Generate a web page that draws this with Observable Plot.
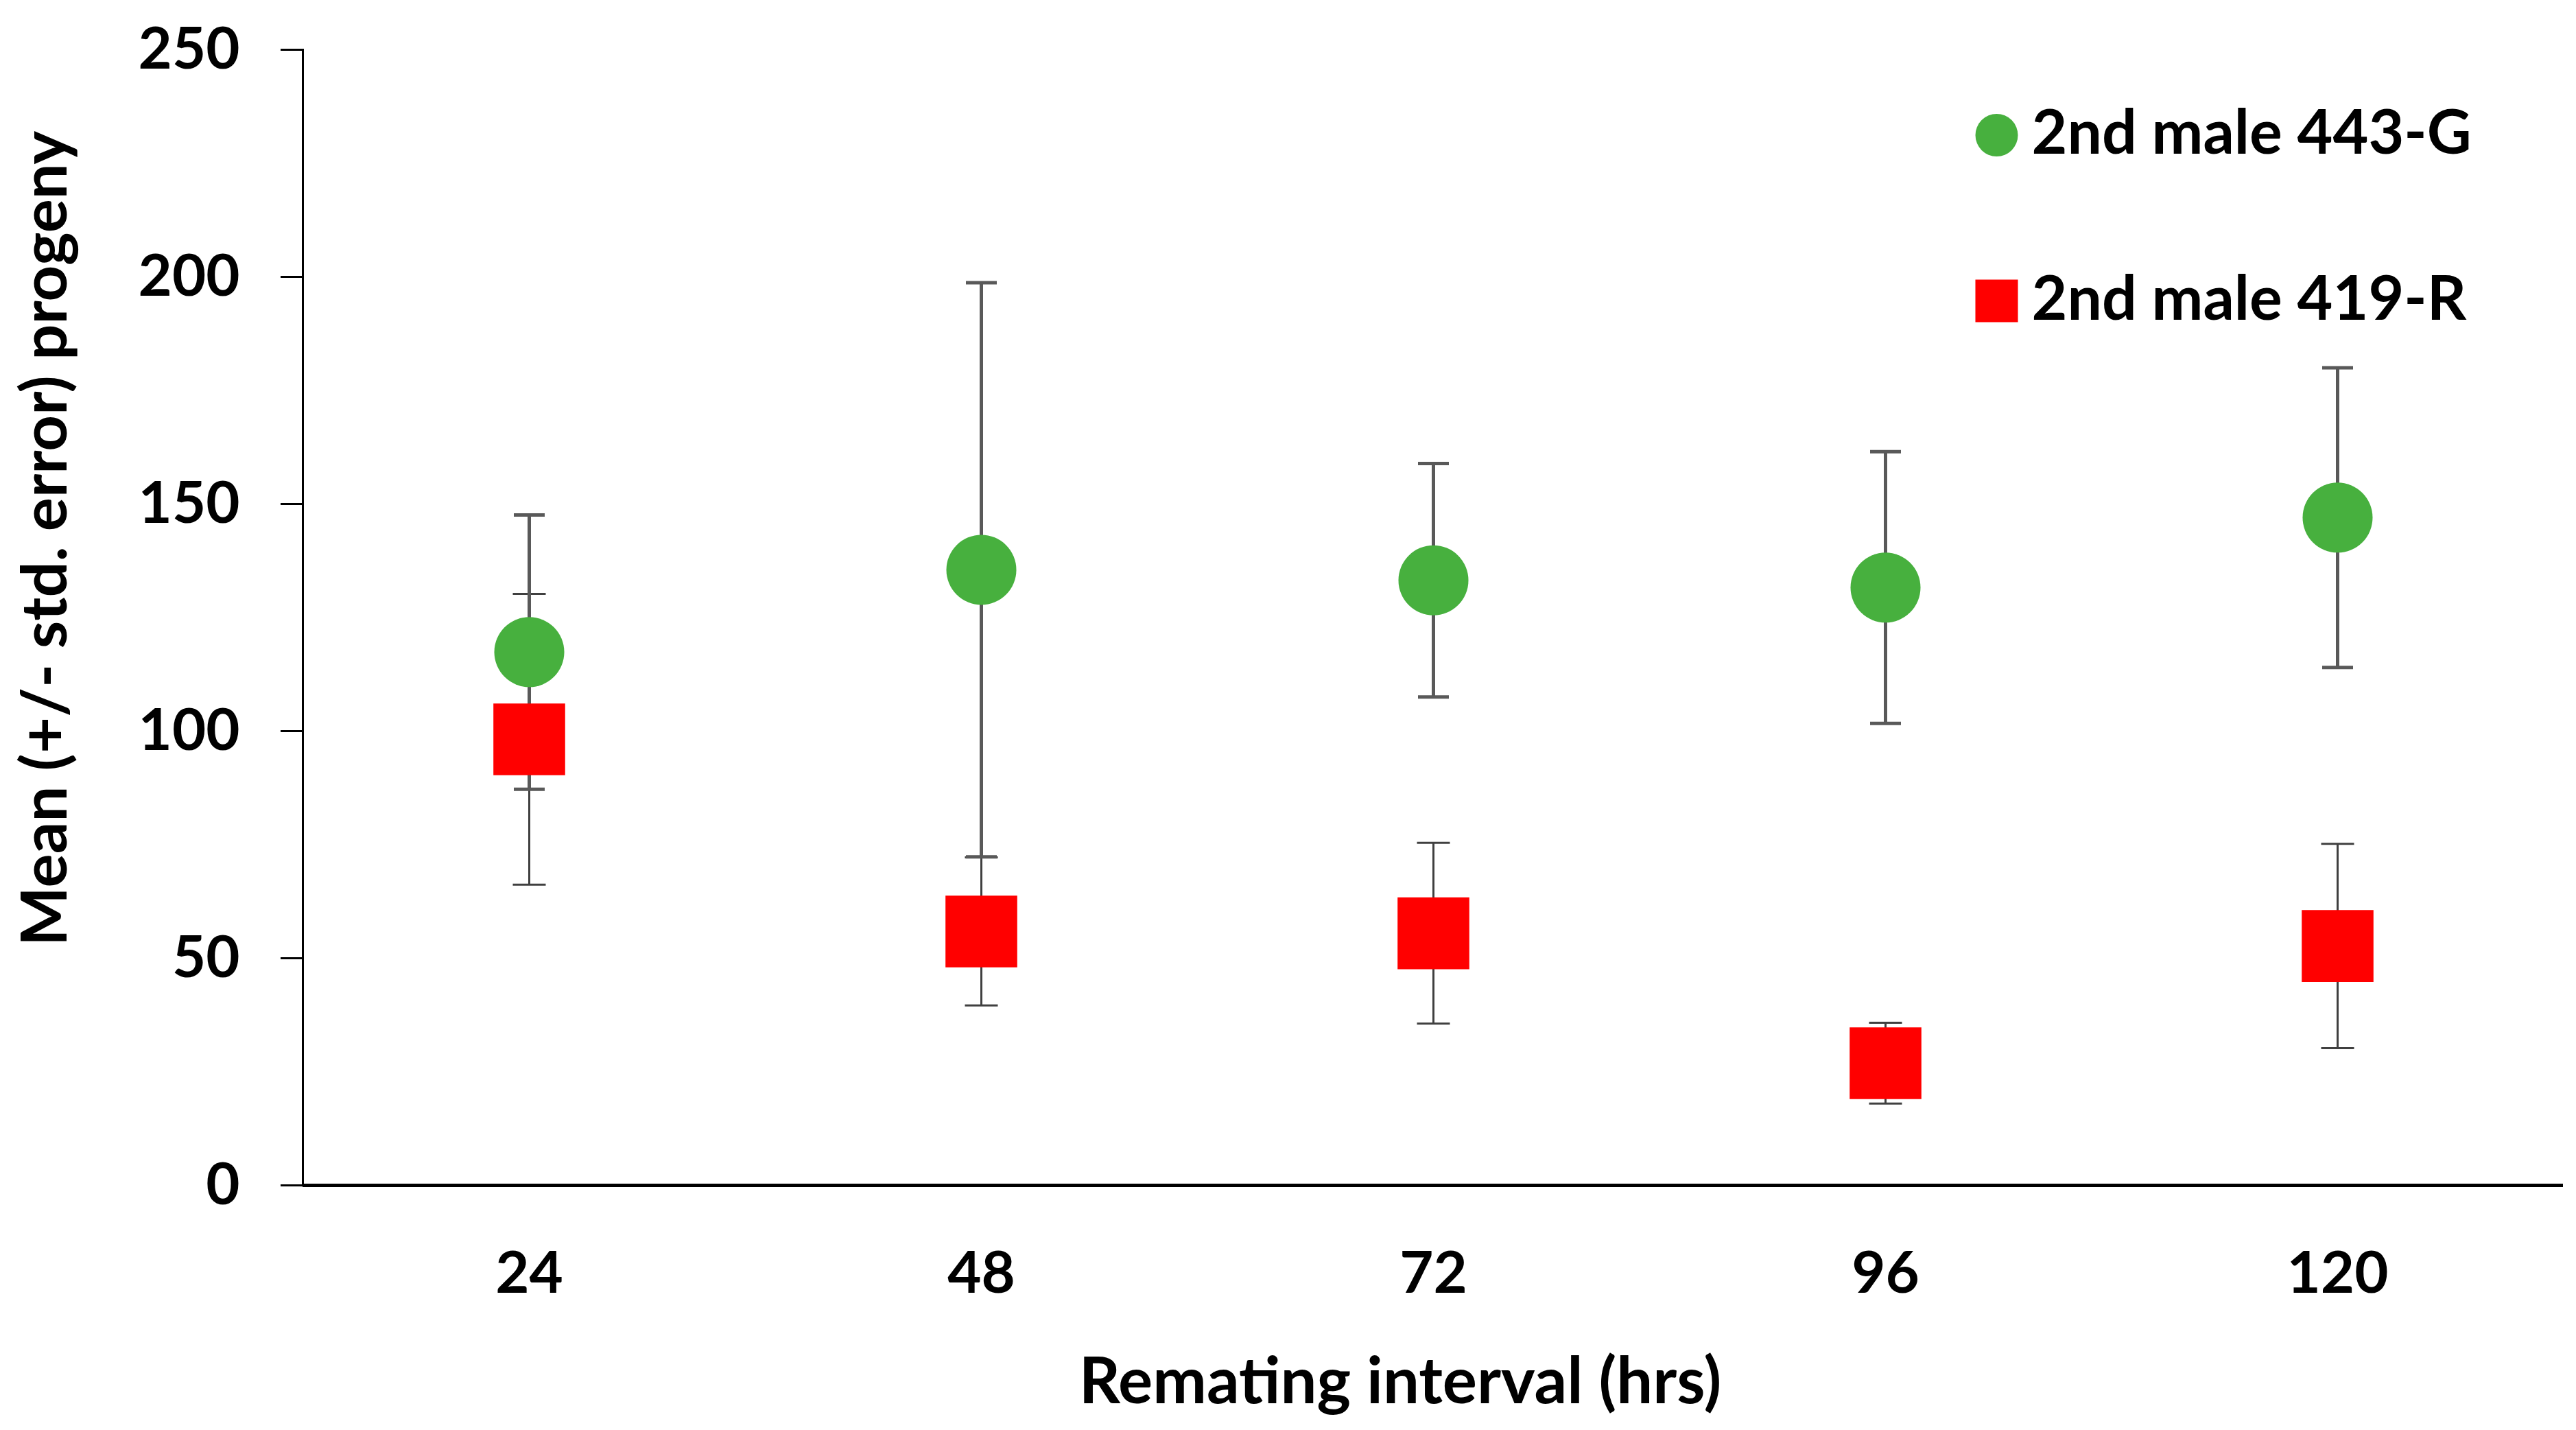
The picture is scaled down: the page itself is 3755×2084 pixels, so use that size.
<!DOCTYPE html>
<html><head><meta charset="utf-8">
<script src="https://cdn.jsdelivr.net/npm/d3@7"></script>
<script src="https://cdn.jsdelivr.net/npm/@observablehq/plot@0.6"></script>
<style>html,body{margin:0;padding:0;background:#fff;overflow:hidden}</style>
</head><body><div id="chart"></div>
<script>
// ---- data ----
const intervals = ["24", "48", "72", "96", "120"];
const seriesNames = ["2nd male 443-G", "2nd male 419-R"];
const meanG = [117.4, 135.5, 133.2, 131.6, 147.0];
const seG   = [30.2, 63.2, 25.7, 29.9, 33.0];
const meanR = [98.2, 55.9, 55.5, 26.9, 52.7];
const seR   = [32.0, 16.3, 19.9, 8.9, 22.5];
const yTicks = [0, 50, 100, 150, 200, 250];
const xTitle = "Remating interval (hrs)";
const yTitle = "Mean (+/- std. error) progeny";

const GREEN = "#47b03e", RED = "#ff0000";
const rowsG = intervals.map((x, i) => ({x, mean: meanG[i], se: seG[i]}));
const rowsR = intervals.map((x, i) => ({x, mean: meanR[i], se: seR[i]}));

// horizontal cap symbol for error bars
const capSymbol = {draw(ctx, size) { const w = Math.sqrt(size / Math.PI); ctx.moveTo(-w, 0); ctx.lineTo(w, 0); }};

function errorMarks(rows, color, width, capR) {
  return [
    Plot.ruleX(rows, {x: "x", y1: d => d.mean - d.se, y2: d => d.mean + d.se, stroke: color, strokeWidth: width}),
    Plot.dot(rows, {x: "x", y: d => d.mean + d.se, symbol: capSymbol, r: capR, stroke: color, strokeWidth: width, fill: "none"}),
    Plot.dot(rows, {x: "x", y: d => d.mean - d.se, symbol: capSymbol, r: capR, stroke: color, strokeWidth: width, fill: "none"})
  ];
}

const chart = Plot.plot({
  width: 3755,
  height: 2084,
  marginLeft: 441,
  marginRight: 19,
  marginTop: 72,
  marginBottom: 357,
  style: {fontFamily: "Lato, 'Open Sans', sans-serif", fontWeight: 700, color: "#000", background: "#fff"},
  x: {type: "point", domain: intervals, padding: 0.5},
  y: {domain: [0, 250]},
  marks: [
    ...errorMarks(rowsR, "#404040", 3, 24),
    ...errorMarks(rowsG, "#595959", 5, 22.5),
    Plot.dot(rowsR, {x: "x", y: "mean", symbol: "square", r: 59, fill: RED}),
    Plot.dot(rowsG, {x: "x", y: "mean", symbol: "circle", r: 51, fill: GREEN}),
    Plot.ruleY([0], {stroke: "#000", strokeWidth: 5}),
    Plot.frame({anchor: "left", stroke: "#000", strokeWidth: 3}),
    Plot.axisY({ticks: yTicks, tickSize: 32, tickPadding: 60, fontSize: 85, fontWeight: 700, strokeWidth: 3, label: null}),
    Plot.axisX({tickSize: 0, tickPadding: 96, fontSize: 85, fontWeight: 700, label: null}),
    Plot.text([yTitle], {frameAnchor: "left", dx: -374, dy: -115, rotate: -90, textAnchor: "middle", lineAnchor: "middle", fontSize: 92, fontWeight: 700, fill: "#000"}),
    Plot.text([xTitle], {frameAnchor: "bottom", dx: -48, dy: 287, textAnchor: "middle", lineAnchor: "middle", fontSize: 94, fontWeight: 700, fill: "#000"}),
    // legend
    Plot.dot([seriesNames[0]], {frameAnchor: "top-left", dx: 2469, dy: 124.5, r: 31, fill: GREEN}),
    Plot.dot([seriesNames[1]], {frameAnchor: "top-left", dx: 2469, dy: 366, r: 35, symbol: "square", fill: RED}),
    Plot.text([seriesNames[0]], {text: d => d, frameAnchor: "top-left", dx: 2520, dy: 122.5, textAnchor: "start", lineAnchor: "middle", fontSize: 89.5, fontWeight: 700, fill: "#000"}),
    Plot.text([seriesNames[1]], {text: d => d, frameAnchor: "top-left", dx: 2520, dy: 365, textAnchor: "start", lineAnchor: "middle", fontSize: 89.5, fontWeight: 700, fill: "#000"})
  ]
});
document.getElementById("chart").appendChild(chart);
</script>
</body></html>
